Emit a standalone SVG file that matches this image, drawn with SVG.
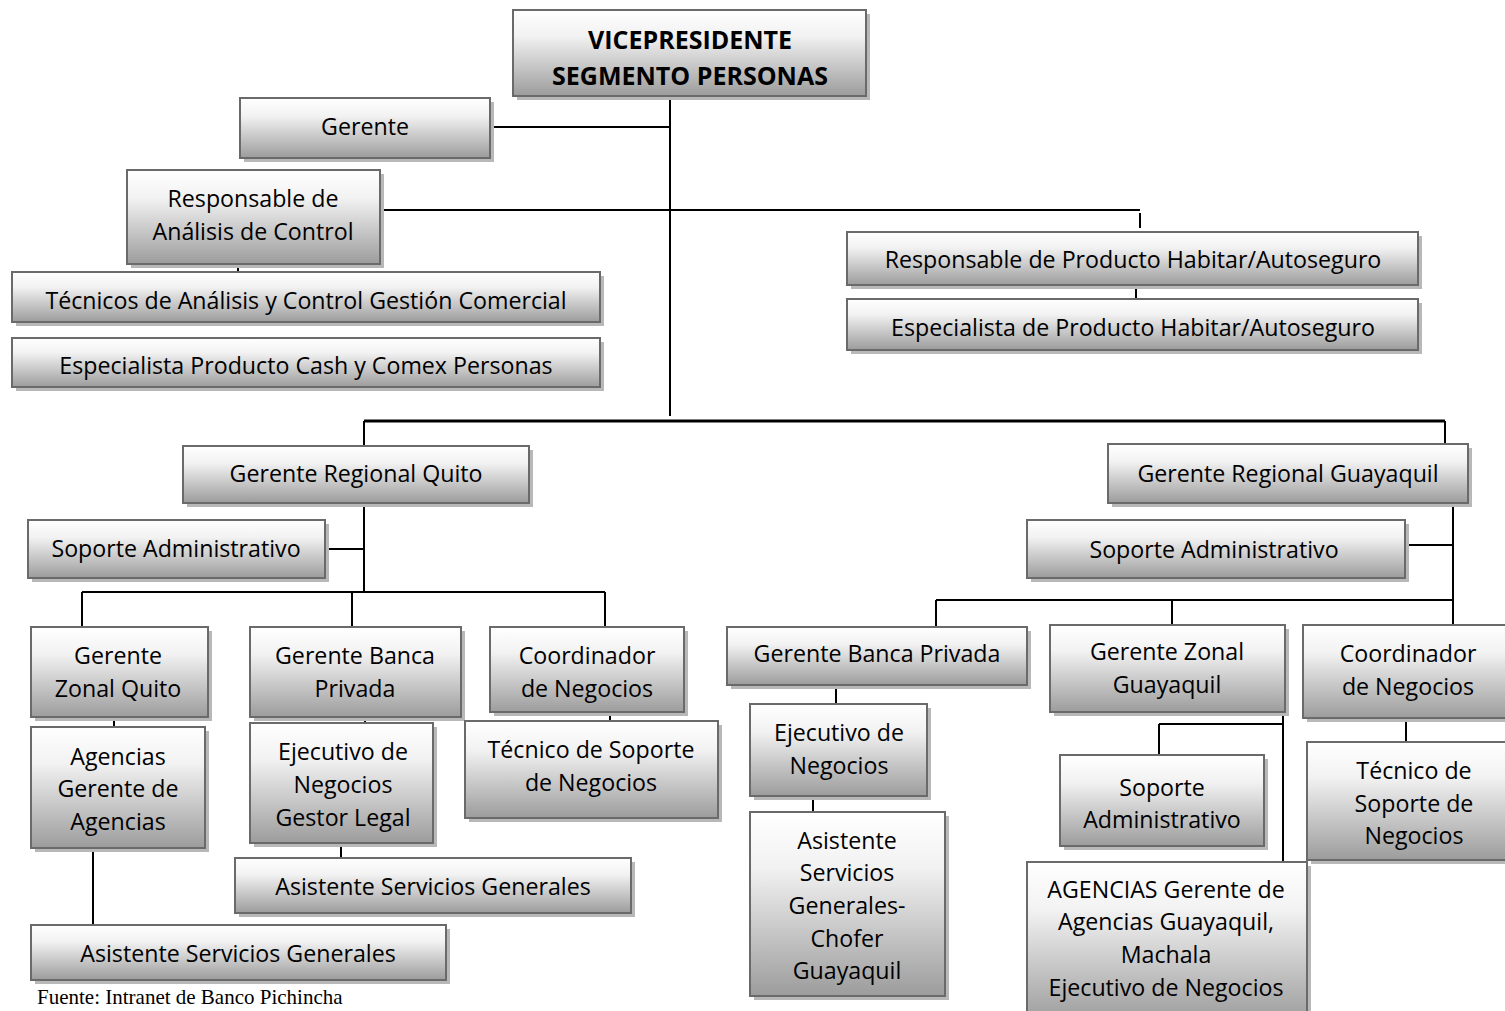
<svg xmlns="http://www.w3.org/2000/svg" width="1505" height="1011" viewBox="0 0 1505 1011">
  <defs>
    <linearGradient id="g" x1="0" y1="0" x2="0" y2="1">
      <stop offset="0" stop-color="#ffffff"/>
      <stop offset="0.3" stop-color="#f2f2f2"/>
      <stop offset="1" stop-color="#9c9c9c"/>
    </linearGradient>
    <style>
      .sh { fill: #b8b8b8; }
      .bx { fill: url(#g); stroke: #6a6a6a; stroke-width: 2; }
      .t { font-family: "Open Sans", "Noto Sans", sans-serif; font-size: 23.2px; fill: #000; text-anchor: middle; }
      .b { font-weight: bold; font-size: 25px; }
      .ln { stroke: #000; stroke-width: 2; fill: none; }
      .src { font-family: "Liberation Serif", serif; font-size: 21px; fill: #000; }
    </style>
  </defs>
  <rect width="1505" height="1011" fill="#fff"/>

  <g id="connectors" class="ln">
    <path d="M670,96 V416"/>
    <path d="M490,127 H670"/>
    <path d="M384,210 H1140"/>
    <path d="M1140,213 V228"/>
    <path d="M238,264 V272"/>
    <path d="M1136,285 V299"/>
    <path d="M364,421 H1445" stroke-width="3"/>
    <path d="M364,421 V446 M1445,421 V446"/>
    <path d="M364,503 V592 M325,549 H364"/>
    <path d="M82,592 H605 M82,592 V627 M352,592 V627 M605,592 V627"/>
    <path d="M114,717 V727"/>
    <path d="M93,848 V925"/>
    <path d="M365,714 V724"/>
    <path d="M341,843 V858"/>
    <path d="M610,712 V721"/>
    <path d="M1453,503 V625 M1405,545 H1453"/>
    <path d="M936,600 H1453 M936,600 V627 M1172,600 V625"/>
    <path d="M836,685 V704"/>
    <path d="M813,796 V812"/>
    <path d="M1283,712 V862 M1159,724 H1283 M1159,724 V755"/>
    <path d="M1406,718 V742"/>
  </g>

  <g id="vicepresidente">
    <rect class="sh" x="517" y="14" width="353" height="86"/>
    <rect class="bx" x="513" y="10" width="353" height="86"/>
    <text class="t b" x="690" y="49">VICEPRESIDENTE</text>
    <text class="t b" x="690" y="85">SEGMENTO PERSONAS</text>
  </g>

  <g id="gerente">
    <rect class="sh" x="244" y="102" width="250" height="60"/>
    <rect class="bx" x="240" y="98" width="250" height="60"/>
    <text class="t" x="365" y="135">Gerente</text>
  </g>

  <g id="responsable-analisis">
    <rect class="sh" x="131" y="174" width="253" height="94"/>
    <rect class="bx" x="127" y="170" width="253" height="94"/>
    <text class="t" x="253" y="207">Responsable de</text>
    <text class="t" x="253" y="240">Análisis de Control</text>
  </g>

  <g id="tecnicos-analisis">
    <rect class="sh" x="16" y="276" width="588" height="50"/>
    <rect class="bx" x="12" y="272" width="588" height="50"/>
    <text class="t" x="306" y="309">Técnicos de Análisis y Control Gestión Comercial</text>
  </g>

  <g id="especialista-cash">
    <rect class="sh" x="16" y="342" width="588" height="49"/>
    <rect class="bx" x="12" y="338" width="588" height="49"/>
    <text class="t" x="306" y="374">Especialista Producto Cash y Comex Personas</text>
  </g>

  <g id="responsable-habitar">
    <rect class="sh" x="851" y="236" width="571" height="53"/>
    <rect class="bx" x="847" y="232" width="571" height="53"/>
    <text class="t" x="1133" y="268">Responsable de Producto Habitar/Autoseguro</text>
  </g>

  <g id="especialista-habitar">
    <rect class="sh" x="851" y="303" width="571" height="51"/>
    <rect class="bx" x="847" y="299" width="571" height="51"/>
    <text class="t" x="1133" y="336">Especialista de Producto Habitar/Autoseguro</text>
  </g>

  <g id="regional-quito">
    <rect class="sh" x="187" y="450" width="346" height="57"/>
    <rect class="bx" x="183" y="446" width="346" height="57"/>
    <text class="t" x="356" y="482">Gerente Regional Quito</text>
  </g>

  <g id="regional-guayaquil">
    <rect class="sh" x="1112" y="448" width="360" height="59"/>
    <rect class="bx" x="1108" y="444" width="360" height="59"/>
    <text class="t" x="1288" y="482">Gerente Regional Guayaquil</text>
  </g>

  <g id="soporte-quito">
    <rect class="sh" x="32" y="524" width="297" height="58"/>
    <rect class="bx" x="28" y="520" width="297" height="58"/>
    <text class="t" x="176" y="557">Soporte Administrativo</text>
  </g>

  <g id="zonal-quito">
    <rect class="sh" x="35" y="631" width="177" height="90"/>
    <rect class="bx" x="31" y="627" width="177" height="90"/>
    <text class="t" x="118" y="664">Gerente</text>
    <text class="t" x="118" y="697">Zonal Quito</text>
  </g>

  <g id="banca-privada-quito">
    <rect class="sh" x="254" y="631" width="211" height="90"/>
    <rect class="bx" x="250" y="627" width="211" height="90"/>
    <text class="t" x="355" y="664">Gerente Banca</text>
    <text class="t" x="355" y="697">Privada</text>
  </g>

  <g id="coordinador-quito">
    <rect class="sh" x="494" y="631" width="194" height="85"/>
    <rect class="bx" x="490" y="627" width="194" height="85"/>
    <text class="t" x="587" y="664">Coordinador</text>
    <text class="t" x="587" y="697">de Negocios</text>
  </g>

  <g id="agencias-quito">
    <rect class="sh" x="35" y="731" width="174" height="121"/>
    <rect class="bx" x="31" y="727" width="174" height="121"/>
    <text class="t" x="118" y="765">Agencias</text>
    <text class="t" x="118" y="797">Gerente de</text>
    <text class="t" x="118" y="830">Agencias</text>
  </g>

  <g id="ejecutivo-quito">
    <rect class="sh" x="254" y="727" width="183" height="120"/>
    <rect class="bx" x="250" y="723" width="183" height="120"/>
    <text class="t" x="343" y="760">Ejecutivo de</text>
    <text class="t" x="343" y="793">Negocios</text>
    <text class="t" x="343" y="826">Gestor Legal</text>
  </g>

  <g id="tecnico-quito">
    <rect class="sh" x="469" y="725" width="253" height="97"/>
    <rect class="bx" x="465" y="721" width="253" height="97"/>
    <text class="t" x="591" y="758">Técnico de Soporte</text>
    <text class="t" x="591" y="791">de Negocios</text>
  </g>

  <g id="asistente-banca-quito">
    <rect class="sh" x="239" y="862" width="396" height="55"/>
    <rect class="bx" x="235" y="858" width="396" height="55"/>
    <text class="t" x="433" y="895">Asistente Servicios Generales</text>
  </g>

  <g id="asistente-agencias-quito">
    <rect class="sh" x="35" y="929" width="415" height="55"/>
    <rect class="bx" x="31" y="925" width="415" height="55"/>
    <text class="t" x="238" y="962">Asistente Servicios Generales</text>
  </g>

  <g id="soporte-guayaquil">
    <rect class="sh" x="1031" y="524" width="378" height="58"/>
    <rect class="bx" x="1027" y="520" width="378" height="58"/>
    <text class="t" x="1214" y="558">Soporte Administrativo</text>
  </g>

  <g id="banca-privada-guayaquil">
    <rect class="sh" x="731" y="631" width="300" height="58"/>
    <rect class="bx" x="727" y="627" width="300" height="58"/>
    <text class="t" x="877" y="662">Gerente Banca Privada</text>
  </g>

  <g id="zonal-guayaquil">
    <rect class="sh" x="1054" y="629" width="235" height="87"/>
    <rect class="bx" x="1050" y="625" width="235" height="87"/>
    <text class="t" x="1167" y="660">Gerente Zonal</text>
    <text class="t" x="1167" y="693">Guayaquil</text>
  </g>

  <g id="coordinador-guayaquil">
    <rect class="sh" x="1307" y="629" width="210" height="93"/>
    <rect class="bx" x="1303" y="625" width="210" height="93"/>
    <text class="t" x="1408" y="662">Coordinador</text>
    <text class="t" x="1408" y="695">de Negocios</text>
  </g>

  <g id="ejecutivo-guayaquil">
    <rect class="sh" x="754" y="708" width="177" height="92"/>
    <rect class="bx" x="750" y="704" width="177" height="92"/>
    <text class="t" x="839" y="741">Ejecutivo de</text>
    <text class="t" x="839" y="774">Negocios</text>
  </g>

  <g id="asistente-guayaquil">
    <rect class="sh" x="754" y="816" width="195" height="184"/>
    <rect class="bx" x="750" y="812" width="195" height="184"/>
    <text class="t" x="847" y="849">Asistente</text>
    <text class="t" x="847" y="881">Servicios</text>
    <text class="t" x="847" y="914">Generales-</text>
    <text class="t" x="847" y="947">Chofer</text>
    <text class="t" x="847" y="979">Guayaquil</text>
  </g>

  <g id="soporte-zonal-guayaquil">
    <rect class="sh" x="1064" y="759" width="204" height="91"/>
    <rect class="bx" x="1060" y="755" width="204" height="91"/>
    <text class="t" x="1162" y="796" font-size="29.5">Soporte</text>
    <text class="t" x="1162" y="828">Administrativo</text>
  </g>

  <g id="tecnico-guayaquil">
    <rect class="sh" x="1311" y="746" width="205" height="118"/>
    <rect class="bx" x="1307" y="742" width="205" height="118"/>
    <text class="t" x="1414" y="779">Técnico de</text>
    <text class="t" x="1414" y="812">Soporte de</text>
    <text class="t" x="1414" y="844">Negocios</text>
  </g>

  <g id="agencias-guayaquil">
    <rect class="sh" x="1031" y="866" width="280" height="160"/>
    <rect class="bx" x="1027" y="862" width="280" height="160"/>
    <text class="t" x="1166" y="898">AGENCIAS Gerente de</text>
    <text class="t" x="1166" y="930">Agencias Guayaquil,</text>
    <text class="t" x="1166" y="963">Machala</text>
    <text class="t" x="1166" y="996">Ejecutivo de Negocios</text>
  </g>

  <text class="src" x="37" y="1004">Fuente: Intranet de Banco Pichincha</text>
</svg>
